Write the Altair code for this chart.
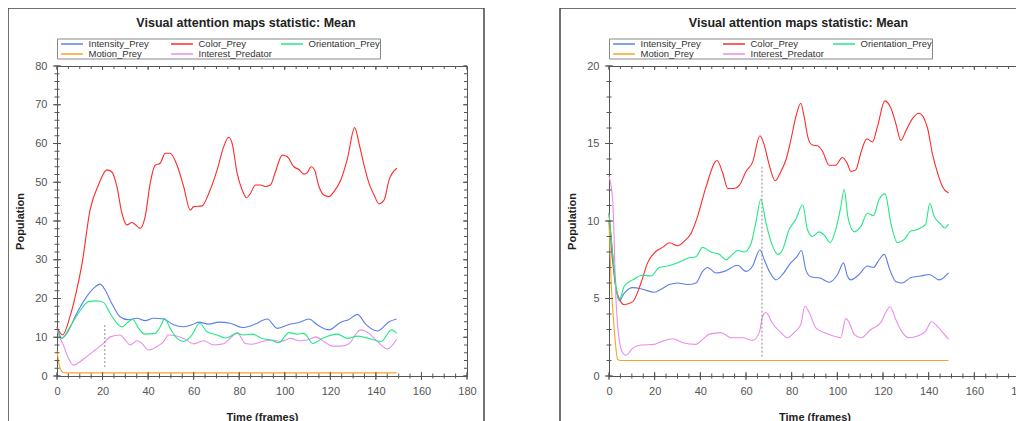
import altair as alt
import pandas as pd

FONT = "Liberation Sans"
TITLE = "Visual attention maps statistic: Mean"
X_LABEL = "Time (frames)"
Y_LABEL = "Population"
# legend fills column by column: this order gives rows
# Intensity / Color / Orientation and Motion / Interest
SERIES = ["Intensity_Prey", "Motion_Prey", "Color_Prey", "Interest_Predator", "Orientation_Prey"]
COLORS = ["#5b7fe6", "#f5a623", "#ff2a2a", "#e98ee9", "#22e884"]

X_TICKS = list(range(0, 181, 20))
X_MINOR = list(range(0, 181, 5))
L_Y_TICKS = list(range(0, 81, 10))
L_Y_MINOR = list(range(0, 81, 2))
R_Y_TICKS = list(range(0, 21, 5))
R_Y_MINOR = list(range(0, 21, 1))

# ---------------- left panel data ----------------
L_COLOR_T = [0, 2.5, 5.7, 8, 11, 14.5, 18.2, 21.9, 24, 26.3, 28.5, 30.7, 32.9, 34.3, 36.5, 38.7, 40.9, 43.1, 45.3, 47.5, 49.7, 52.7, 55.6, 58.5, 60, 63.7, 66.6, 70.3, 73.2, 75.4, 76.9, 79.1, 81.3, 83.2, 84.9, 87.1, 89.3, 91.5, 93.7, 95.9, 98.9, 101.1, 104, 106.2, 108.4, 109.9, 111.6, 113, 115, 117.2, 119.4, 121.6, 124.6, 127.5, 130.7, 132.6, 134.8, 137, 139.2, 141.4, 143.6, 145.8, 149.2]
L_COLOR_V = [12.6, 10.6, 15.3, 20.5, 29, 42.8, 49.3, 53.2, 52.7, 48.9, 42, 39, 39.6, 39.1, 38.1, 41.1, 49.7, 54.4, 54.9, 57.5, 57.5, 54.4, 48.9, 42.8, 43.7, 43.9, 47.1, 53.2, 59.2, 61.6, 60, 52.3, 48, 46, 47.1, 49.3, 49.3, 48.9, 49.3, 52.7, 57, 56.6, 54, 53.3, 52.1, 52.5, 54, 53.3, 48.9, 46.7, 46.3, 47.6, 50.6, 56.1, 64.1, 60, 54.4, 49.7, 46.7, 44.4, 45.4, 50.6, 53.6]

L_INT_T = [0, 2.1, 4.3, 8.7, 13, 16, 18.9, 21.1, 24, 27.7, 31.4, 35.1, 38.7, 42.4, 46.8, 51.2, 55.6, 59.3, 62.2, 66.6, 71, 76.1, 81.3, 87.1, 92.3, 96.7, 101.8, 106.2, 110.6, 114.3, 119.4, 124.6, 128.2, 131.9, 135.6, 140.7, 145.8, 149.1]
L_INT_V = [12.7, 9.7, 11, 16.2, 20.5, 22.6, 23.7, 22.2, 18.8, 15.3, 14.5, 14.9, 14.3, 14.9, 14.7, 13.2, 12.7, 13.2, 13.9, 13.4, 13.9, 13.6, 12.5, 13.4, 14.7, 12.3, 13.3, 13.8, 14.7, 13.2, 11.9, 13.9, 14.6, 15.9, 13.3, 11.6, 14.0, 14.7]

L_ORI_T = [0, 2.1, 5.7, 9.4, 13.8, 17.5, 20.4, 23.3, 26.3, 28.5, 31.4, 33.3, 35.8, 38.7, 43.1, 46.1, 47.1, 49.7, 52.7, 55.6, 59.3, 62.6, 65.9, 70.3, 74, 79.1, 82, 85.7, 90.1, 93.7, 97.4, 101.8, 105.5, 108.4, 112.4, 116.5, 123.1, 127.5, 131.9, 137, 142.2, 146.9, 149.1]
L_ORI_V = [12.3, 9.7, 12.7, 16.2, 19.2, 19.4, 19.0, 16.2, 13.6, 12.7, 14.0, 14.6, 12.3, 10.8, 11.0, 13.6, 14.9, 12.3, 9.7, 8.9, 10.6, 13.6, 11.4, 10.6, 9.8, 11.0, 10.6, 10.8, 9.7, 9.3, 8.6, 11.2, 10.8, 11.0, 8.4, 9.7, 10.8, 9.7, 10.3, 9.7, 8.9, 11.9, 11.0]

L_MOT_T = [0, 1.3, 2.8, 4, 149.1]
L_MOT_V = [6.5, 2.1, 0.9, 0.8, 0.8]

L_PRED_T = [0, 1.3, 2.8, 5, 7.2, 10.1, 13, 16.7, 20.4, 23.3, 27.7, 29.9, 32.1, 35.1, 37.3, 40.2, 43.9, 46.8, 49, 51.9, 55.6, 60, 64.4, 68.8, 73.2, 76.5, 79.1, 82.7, 85.7, 90.1, 94.5, 98.2, 102.5, 106.2, 109.9, 113.6, 117.2, 120.9, 124.6, 128.2, 131.2, 133.4, 137, 140.7, 145.1, 149.1]
L_PRED_V = [12, 9.8, 8.0, 4.6, 2.8, 3.7, 5.0, 6.7, 8.4, 10.1, 10.6, 9.3, 8.0, 9.1, 8.4, 6.7, 7.6, 8.9, 10.6, 10.4, 9.7, 8.3, 9.1, 8.0, 8.3, 10.0, 11.2, 8.4, 8.2, 8.9, 9.3, 8.9, 9.7, 9.1, 9.3, 10.1, 8.9, 7.7, 7.7, 8.3, 10.8, 11.9, 11.0, 8.9, 7.0, 9.5]

L_MARK_T = [21]
L_MARK_LO = [2.3]
L_MARK_HI = [13.7]

# ---------------- right panel data ----------------
R_COLOR_T = [0, 1.5, 3.1, 6.7, 10.4, 14, 16.9, 20.6, 23.5, 26.4, 30.1, 33, 35.9, 38.8, 42.5, 47.3, 49.8, 52, 54.8, 57.1, 60, 62.9, 66.1, 68, 70.2, 72.8, 75.3, 77.5, 79.6, 81.8, 84, 85.5, 87.2, 89.1, 91.3, 93.5, 96.4, 99.3, 102.2, 104.4, 105.9, 108.1, 110.3, 112.9, 115.4, 117.6, 120.8, 123.4, 125.6, 127.8, 130, 132.9, 135.8, 139.5, 141.7, 143.9, 146.1, 148.7]
R_COLOR_V = [10.5, 8, 5.6, 4.6, 4.8, 6.0, 7.3, 8.05, 8.3, 8.6, 8.4, 8.7, 9.2, 10.3, 12.2, 13.9, 13.1, 12.1, 12.1, 12.3, 13.2, 13.8, 15.5, 14.9, 13.6, 12.6, 13.2, 13.95, 15.2, 16.7, 17.6, 16.7, 15.35, 14.9, 14.85, 14.5, 13.6, 13.6, 14.1, 13.7, 13.2, 13.3, 14.4, 15.3, 15.1, 16.1, 17.75, 17.3, 16.3, 15.2, 15.8, 16.6, 16.95, 16.0, 14.3, 13.1, 12.2, 11.8]

R_ORI_T = [0, 1.5, 4.5, 6.7, 10.4, 14.7, 18.4, 22, 25.7, 30.1, 34.4, 38.1, 41, 44.6, 48.3, 51.2, 54.1, 56.3, 59.2, 62.1, 64.3, 66.5, 68.7, 71.6, 73.8, 76, 78.9, 81.8, 84.8, 86.9, 89.1, 92, 94.2, 96.9, 99.3, 101.5, 103, 104.7, 107.4, 110.3, 113.2, 115.8, 118.3, 120.9, 123.4, 126.3, 129.2, 132.2, 135.1, 138.7, 140.5, 142.4, 145.3, 147, 148.7]
R_ORI_V = [10.5, 8, 4.9, 5.8, 6.2, 6.5, 6.45, 7.0, 7.1, 7.3, 7.6, 7.7, 8.3, 8.0, 7.85, 7.5, 7.85, 8.1, 8.0, 8.5, 9.9, 11.4, 9.9, 8.4, 7.85, 8.15, 9.45, 10.1, 11.05, 9.45, 9.0, 9.3, 9.1, 8.6, 9.45, 10.9, 12.05, 10.2, 9.3, 9.65, 10.5, 10.35, 11.4, 11.75, 9.9, 8.6, 8.8, 9.35, 9.45, 9.8, 11.15, 10.3, 9.8, 9.55, 9.8]

R_INT_T = [0, 1.5, 4.5, 6.7, 10.4, 14.7, 19.8, 22.8, 26.4, 30.1, 34.4, 38.1, 41, 43.2, 46.8, 50.5, 56.3, 60, 62.9, 66.1, 68, 70.2, 73.1, 76, 79.6, 82.3, 84.3, 86.2, 88.4, 92.8, 96.4, 100.1, 102.7, 104.4, 105.9, 109.5, 113.2, 115.8, 118.3, 120.5, 123, 125.6, 128.5, 132.2, 136.5, 140.2, 144.6, 148.7]
R_INT_V = [10, 7.5, 4.85, 5.35, 5.7, 5.6, 5.4, 5.6, 5.9, 6.0, 5.9, 6.0, 6.75, 7.0, 6.65, 6.75, 7.15, 6.75, 7.1, 8.15, 7.5, 6.75, 6.2, 6.55, 7.3, 7.7, 8.1, 6.85, 6.4, 6.3, 6.05, 6.55, 7.3, 6.45, 6.2, 6.55, 7.1, 7.0, 7.5, 7.85, 6.85, 6.1, 6.0, 6.35, 6.45, 6.55, 6.2, 6.65]

R_MOT_T = [0, 0.9, 2.3, 3.8, 5, 148.7]
R_MOT_V = [10, 6.2, 3.0, 1.07, 1.0, 1.0]

R_PRED_T = [0, 1.6, 3.1, 4.5, 6, 7.4, 10.4, 14, 19.8, 23.5, 27.9, 32.3, 38.1, 41, 43.9, 49, 53.4, 58.5, 62.9, 65.8, 67.3, 68.7, 71.6, 75.3, 78.2, 81.1, 84, 85.8, 87.7, 90.6, 94.2, 97.9, 101.5, 103.7, 105.2, 107.4, 110.3, 114.7, 119, 121.2, 123.1, 125.6, 128.5, 131.4, 135.1, 138.7, 141.2, 143.9, 146.8, 148.7]
R_PRED_V = [12.9, 11.4, 4.8, 2.3, 1.5, 1.33, 1.8, 2.0, 2.04, 2.25, 2.4, 2.15, 2.04, 2.36, 2.7, 2.8, 2.47, 2.47, 2.3, 2.8, 3.86, 4.1, 3.4, 2.8, 2.47, 2.8, 3.33, 4.5, 4.1, 3.1, 2.8, 2.6, 2.47, 3.7, 3.44, 2.68, 2.47, 3.0, 3.44, 4.1, 4.47, 3.65, 2.8, 2.47, 2.58, 2.9, 3.5, 3.2, 2.7, 2.36]

R_MARK_T = [67]
R_MARK_LO = [1.25]
R_MARK_HI = [13.5]

LEFT = {
    "Intensity_Prey": (L_INT_T, L_INT_V),
    "Color_Prey": (L_COLOR_T, L_COLOR_V),
    "Orientation_Prey": (L_ORI_T, L_ORI_V),
    "Motion_Prey": (L_MOT_T, L_MOT_V),
    "Interest_Predator": (L_PRED_T, L_PRED_V),
}
RIGHT = {
    "Intensity_Prey": (R_INT_T, R_INT_V),
    "Color_Prey": (R_COLOR_T, R_COLOR_V),
    "Orientation_Prey": (R_ORI_T, R_ORI_V),
    "Motion_Prey": (R_MOT_T, R_MOT_V),
    "Interest_Predator": (R_PRED_T, R_PRED_V),
}

AX = "#555555"
H = 310


def panel(data, ymax, yticks, yminor, mark, W, frame_right):
    rows = []
    for name in SERIES:
        ts, vs = data[name]
        rows += [{"t": t, "v": v, "series": name} for t, v in zip(ts, vs)]
    df = pd.DataFrame(rows)
    xs = alt.Scale(domain=[0, 180], nice=False, zero=False)
    ys = alt.Scale(domain=[0, ymax], nice=False)
    x_axis = alt.Axis(values=X_TICKS, title=X_LABEL, ticks=False, tickSize=0, domain=False, grid=False,
                      labelFlush=False, labelOverlap=False, labelPadding=9, titlePadding=15)
    y_axis = alt.Axis(values=yticks, title=Y_LABEL, ticks=False, tickSize=0, domain=False, grid=False,
                      labelFlush=False, labelOverlap=False, labelPadding=10, titlePadding=9)
    one = pd.DataFrame({"a": [1]})

    frame = alt.Chart(one).mark_rect(fill="white", fillOpacity=0, stroke="#444444", strokeWidth=1.5).encode(
        x=alt.value(-49), x2=alt.value(W + frame_right), y=alt.value(-58), y2=alt.value(H + 60))
    title = alt.Chart(one).mark_text(font=FONT, fontSize=12.5, fontWeight="bold", color="#222222",
                                     baseline="middle", align="center").encode(
        x=alt.value(W / 2 - 16), y=alt.value(-43), text=alt.value(TITLE))

    lines = alt.Chart(df).mark_line(strokeWidth=1.1, interpolate="monotone").encode(
        x=alt.X("t:Q", scale=xs, axis=x_axis),
        y=alt.Y("v:Q", scale=ys, axis=y_axis),
        color=alt.Color("series:N", scale=alt.Scale(domain=SERIES, range=COLORS),
                        legend=alt.Legend(orient="none", legendX=0, legendY=-27.5, columns=3, gridAlign="all",
                                          symbolType="M-2.44,0H2.44", symbolSize=81, symbolStrokeWidth=1.5,
                                          symbolOffset=9.5, labelOffset=11,
                                          labelFontSize=9.5, labelFont=FONT, labelColor="#333333",
                                          strokeColor="#888888", padding=0,
                                          columnPadding=5, rowPadding=0, title=None)),
    )

    mk = pd.DataFrame({"t": mark[0], "v": mark[1], "hi": mark[2]})
    vline = alt.Chart(mk).mark_rule(color="#888888", strokeDash=[2, 2], strokeWidth=1).encode(
        x=alt.X("t:Q", scale=xs, axis=x_axis), y=alt.Y("v:Q", scale=ys, axis=y_axis), y2="hi:Q")

    def xt(vals, a, b):
        return alt.Chart(pd.DataFrame({"t": vals})).mark_rule(color=AX, strokeWidth=1).encode(
            x=alt.X("t:Q", scale=xs, axis=x_axis), y=alt.value(a), y2=alt.value(b))

    def yt(vals, a, b):
        return alt.Chart(pd.DataFrame({"v": vals})).mark_rule(color=AX, strokeWidth=1).encode(
            y=alt.Y("v:Q", scale=ys, axis=y_axis), x=alt.value(a), x2=alt.value(b))

    ticks = [
        xt(X_TICKS, H - 4, H + 4), xt(X_MINOR, H - 2.5, H + 2.5),
        xt(X_TICKS, 0, 4), xt(X_MINOR, 0, 3),
        yt(yticks, -4, 4), yt(yminor, -2.5, 2.5),
        yt(yticks, W - 4, W), yt(yminor, W - 3, W),
    ]
    return alt.layer(frame, title, lines, vline, *ticks).properties(width=W, height=H)


left = panel(LEFT, 80, L_Y_TICKS, L_Y_MINOR, (L_MARK_T, L_MARK_LO, L_MARK_HI), 410, 17)
right = panel(RIGHT, 20, R_Y_TICKS, R_Y_MINOR, (R_MARK_T, R_MARK_LO, R_MARK_HI), 411, 17)

chart = alt.hconcat(left, right, spacing=72).resolve_scale(
    x="independent", y="independent", color="independent"
).resolve_legend(color="independent").properties(
    autosize=alt.AutoSizeParams(type="none"),
    padding={"left": 49, "top": 58, "right": 959, "bottom": 347},
).configure_view(
    stroke=AX, strokeWidth=1
).configure_axis(
    labelFont=FONT, labelFontSize=11, labelColor="#555555",
    titleFont=FONT, titleFontSize=11, titleFontWeight="bold", titleColor="#222222"
)

chart.save("out.html", embed_options={"renderer": "svg", "actions": False})
